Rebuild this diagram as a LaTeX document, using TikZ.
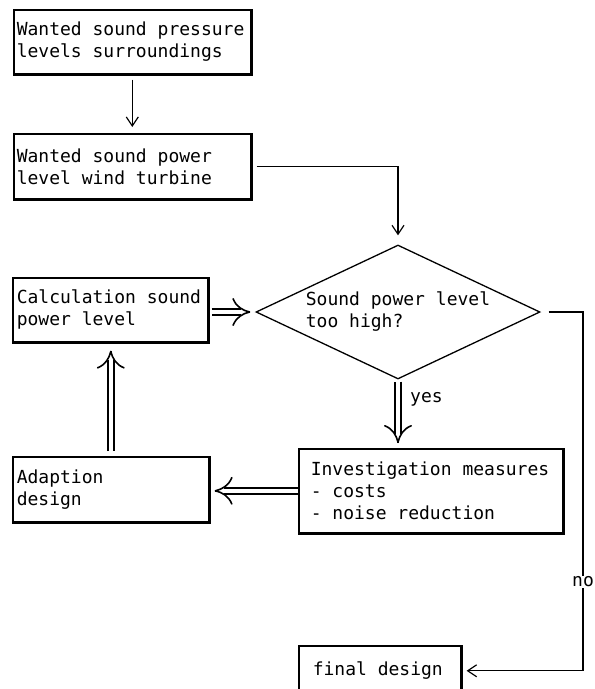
\documentclass[tikz,border=0pt]{standalone}
\usepackage{fontspec}
\setmonofont{DejaVu Sans Mono}
\usetikzlibrary{arrows.meta,shapes.geometric,calc}
% typewriter face used for all labels
\newcommand\chartfont{\ttfamily\fontsize{18}{22}\selectfont}
% double-lined connector: #1 from, #2 to, #3 gap at start, #4 gap at tip
\newcommand\dblarrow[4]{%
  \draw[dblline, shorten <=#3] (#1) -- ($(#2)!#4+9pt!(#1)$);
  \draw[dblhead] ($(#2)!#4+0.5pt!(#1)$) -- ($(#2)!#4!(#1)$);
}

\begin{document}
\begin{tikzpicture}[x=1pt,y=-1pt,
  every node/.style={font=\chartfont},
  box/.style={draw, line width=1.6pt, anchor=north west, align=flush left, inner ysep=0pt},
  decision/.style={draw, diamond, shape aspect=2.12, line width=1.3pt,
    minimum width=284pt, minimum height=134pt, inner sep=0pt, align=left},
  arr/.style={line width=1.2pt, -{Straight Barb[length=9pt,width=12pt,line width=1.2pt]}},
  dblline/.style={double, double distance=4.6pt, line width=1.6pt},
  dblhead/.style={line width=1.6pt,
    -{Computer Modern Rightarrow[length=18pt,width=28pt,line width=1.6pt]}},
  lbl/.style={inner sep=1pt}
]
\path[use as bounding box] (0,0) rectangle (595,689);
\clip (0,0) rectangle (595,689);

% process boxes
\node[box, inner xsep=3pt, text width=231pt, minimum height=64pt] (wsp) at (13,9)
  {Wanted sound pressure\\levels surroundings};
\node[box, inner xsep=3pt, text width=231pt, minimum height=65pt] (wpw) at (13,133)
  {Wanted sound power\\level wind turbine};
\node[box, inner xsep=4pt, text width=187pt, minimum height=64pt] (calc) at (12,277)
  {Calculation sound\\power level};
\node[box, inner xsep=4pt, text width=188pt, minimum height=65pt] (adapt) at (12,456)
  {Adaption\\design};
\node[box, inner xsep=12pt, text width=240pt, minimum height=84pt] (inv) at (298,448)
  {Investigation measures\\- costs\\- noise reduction};
\node[box, inner xsep=14pt, text width=134pt, minimum height=50pt] (fin) at (298,645)
  {final design};

% heavier lower and right edges of the boxes
\foreach \n in {wsp,wpw,calc,adapt,inv,fin}
  \draw[line width=3pt] (\n.north east) -- (\n.south east) -- (\n.south west);

% decision
\node[decision] (dia) at (398,312) {Sound power level\\too high?};

% single-line connectors
\draw[arr, shorten <=5pt, shorten >=6pt] (wsp.south) -- (wpw.north);
\draw[arr, shorten <=5pt, shorten >=9pt] (wpw.east) -| (dia.north);

% double-line connectors
\coordinate (c1) at (calc.east |- dia.west);
\coordinate (c2) at (dia.south |- inv.north);
\coordinate (c3) at (adapt.east |- inv.west);
\coordinate (c4) at (adapt.north |- calc.south);
\dblarrow{c1}{dia.west}{3pt}{5pt}
\dblarrow{dia.south}{c2}{2pt}{5pt}
\dblarrow{inv.west}{c3}{0pt}{5pt}
\dblarrow{adapt.north}{c4}{5pt}{8pt}

% "no" branch
\coordinate (turn) at (583,312);
\draw[arr, shorten <=8pt, shorten >=5pt] (dia.east) -- (turn) |- (fin.east);

% branch labels
\node[lbl, anchor=west] (yes) at (409,399) {yes};
\node[lbl, fill=white] (no) at (583,582) {no};
\end{tikzpicture}
\end{document}
